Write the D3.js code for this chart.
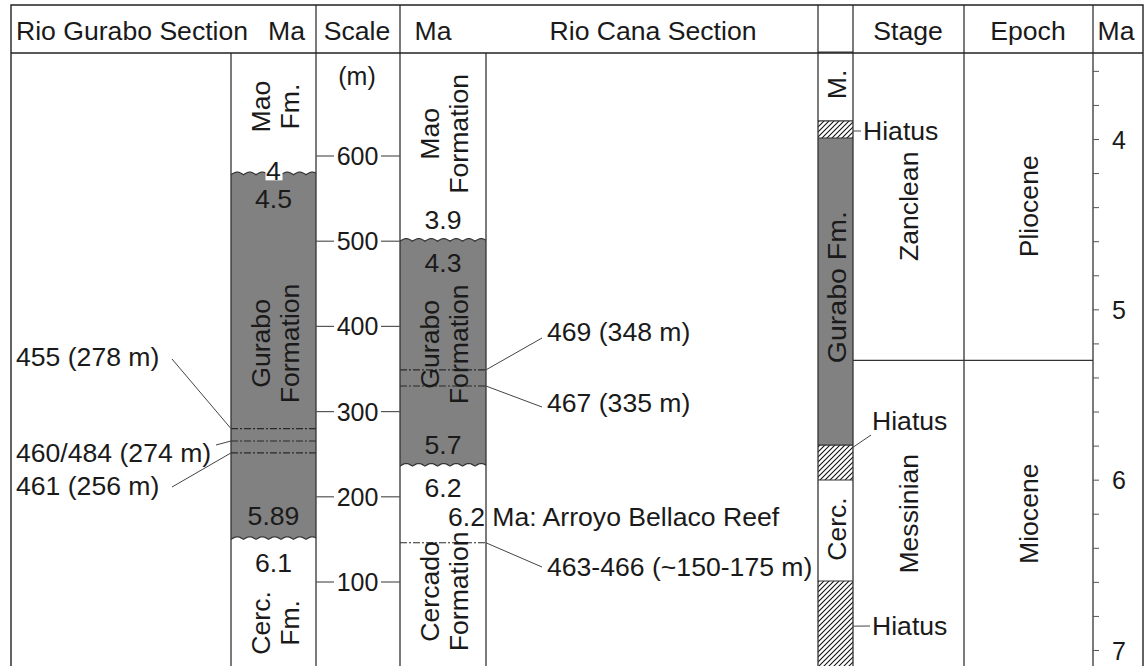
<!DOCTYPE html>
<html>
<head>
<meta charset="utf-8">
<script src="https://cdn.jsdelivr.net/npm/d3@7"></script>
<style>
  body { margin: 0; background: #fff; }
  text { font-family: "Liberation Sans", Arial, sans-serif; fill: #1a1a1a; }
</style>
</head>
<body>
<div id="chart"></div>
<script>
// ---- data ----
var header_labels = ["Rio Gurabo Section", "Ma", "Scale", "Ma", "Rio Cana Section", "Stage", "Epoch", "Ma"];

// Rio Gurabo section, metres
var gurabo_units = [
    {name: "Mao Fm.", kind: "Mao", top: 721, base: 578},
    {name: "Gurabo Formation", kind: "Gurabo", top: 578, base: 150},
    {name: "Cerc. Fm.", kind: "Cercado", top: 150, base: 0}
];
var gurabo_ages = [{label: "4", m: 582}, {label: "4.5", m: 549}, {label: "5.89", m: 177}, {label: "6.1", m: 122}];
var gurabo_samples = [
    {label: "455 (278 m)", m: 280},
    {label: "460/484 (274 m)", m: 265.5},
    {label: "461 (256 m)", m: 251.5}
];

// Rio Cana section, metres
var cana_units = [
    {name: "Mao Formation", kind: "Mao", top: 721, base: 500},
    {name: "Gurabo Formation", kind: "Gurabo", top: 500, base: 236},
    {name: "Cercado Formation", kind: "Cercado", top: 236, base: 0}
];
var cana_ages = [{label: "3.9", m: 525}, {label: "4.3", m: 474}, {label: "5.7", m: 261}, {label: "6.2", m: 210}];
var cana_samples = [
    {label: "469 (348 m)", m: 349},
    {label: "467 (335 m)", m: 330},
    {label: "463-466 (~150-175 m)", m: 146}
];
var reef_note = {label: "6.2 Ma: Arroyo Bellaco Reef", m: 176};

var scale_ticks = [100, 200, 300, 400, 500, 600];

// time column, Ma
var time_units = [
    {name: "M.", kind: "Mao", top: 3.49, base: 3.894},
    {name: "", kind: "hiatus", top: 3.894, base: 3.994},
    {name: "Gurabo Fm.", kind: "Gurabo", top: 3.994, base: 5.797},
    {name: "", kind: "hiatus", top: 5.797, base: 6.002},
    {name: "Cerc.", kind: "Cercado", top: 6.002, base: 6.595},
    {name: "", kind: "hiatus", top: 6.595, base: 7.1}
];
var hiatus_ma = [3.953, 5.81, 6.86];
var stages = [{name: "Zanclean", top: 3.49, base: 5.3}, {name: "Messinian", top: 5.3, base: 7.1}];
var epochs = [{name: "Pliocene", top: 3.49, base: 5.3}, {name: "Miocene", top: 5.3, base: 7.1}];
var ma_ticks = [3.6, 3.8, 4, 4.2, 4.4, 4.6, 4.8, 5, 5.2, 5.4, 5.6, 5.8, 6, 6.2, 6.4, 6.6, 6.8, 7];
var ma_labels = [4, 5, 6, 7];

// ---- layout ----
var width = 1144, height = 666;
var frameL = 11, frameR = 1143, frameT = 5, headB = 53;
var header_x = [16, 268, 357, 433, 653, 908, 1028, 1116];
var header_anchor = ["start", "start", "middle", "middle", "middle", "middle", "middle", "middle"];
var gurStrip = [231, 316], canaStrip = [400, 486], timeStrip = [818, 853];
var body_lines = [231, 316, 400, 486, 818, 853, 964, 1093];
var head_lines = [316, 400, 818, 853, 964, 1093];
var gurabo_label_m = [658, 380, 52];
var cana_label_m = [626, 379, 89];
var time_label_ma = [3.68, 4.87, 6.29];
var gurabo_sample_pos = [{y: 357, lx: 172, ly: 359}, {y: 453, lx: 216, ly: 445}, {y: 486, lx: 172, ly: 487}];
var cana_sample_pos = [{y: 332, ly: 338}, {y: 403, ly: 407}, {y: 567, ly: 567}];
var hiatus_pos = [{x: 861, y: 131, tx: 863, ty: 131}, {x: 871, y: 435, tx: 872, ty: 421}, {x: 870, y: 626, tx: 872, ty: 626}];
var fills = {Mao: "#fff", Cercado: "#fff", Gurabo: "#818181", hiatus: "url(#hatch)"};
var fs = 26.6;

var yM = d3.scaleLinear().domain([0, 600]).range([667.2, 156]);
var yMa = d3.scaleLinear().domain([4, 7]).range([139, 650]);

var svg = d3.select("#chart").append("svg")
    .attr("width", width)
    .attr("height", height);

var pat = svg.append("defs").append("pattern")
    .attr("id", "hatch")
    .attr("patternUnits", "userSpaceOnUse")
    .attr("width", 5).attr("height", 5);
pat.append("rect").attr("width", 5).attr("height", 5).attr("fill", "#fff");
pat.append("path")
    .attr("d", "M-1,1 l2,-2 M0,5 l5,-5 M4,6 l2,-2")
    .attr("stroke", "#111").attr("stroke-width", 1.1);

svg.append("rect")
    .attr("x", frameL).attr("y", frameT)
    .attr("width", frameR - frameL).attr("height", height + 10 - frameT)
    .attr("fill", "#fff");

// scalloped unconformity points
function wavePts(x0, x1, y) {
    var pts = [];
    for (var x = x0; x <= x1; x += 0.5) {
        pts.push([x, y - 2.6 * Math.abs(Math.sin(Math.PI * (x - x0) / 12.5))]);
    }
    return pts;
}

function drawUnits(units, strip, scale, wavy) {
    var g = svg.append("g");
    units.forEach(function(u) {
        var y0 = scale(u.top), y1 = scale(u.base);
        var topPts = (wavy && u.top < 700) ? wavePts(strip[0], strip[1], y0) : [[strip[0], y0], [strip[1], y0]];
        var basePts = (wavy && u.base > 0) ? wavePts(strip[0], strip[1], y1) : [[strip[0], y1], [strip[1], y1]];
        var pts = topPts.concat(basePts.slice().reverse());
        g.append("path")
            .attr("d", "M" + pts.join("L") + "Z")
            .attr("fill", fills[u.kind]);
        if (u.top < 700) {
            g.append("path")
                .attr("d", d3.line()(topPts))
                .attr("fill", "none")
                .attr("stroke", "#333")
                .attr("stroke-width", 1.2);
        }
    });
    return g;
}

drawUnits(gurabo_units, gurStrip, yM, true);
drawUnits(cana_units, canaStrip, yM, true);
drawUnits(time_units, timeStrip, yMa, false);

// sample horizons (dash-dot)
function horizons(samples, strip) {
    svg.append("g").selectAll("line")
        .data(samples).enter().append("line")
        .attr("x1", strip[0]).attr("x2", strip[1])
        .attr("y1", function(d) { return yM(d.m); })
        .attr("y2", function(d) { return yM(d.m); })
        .attr("stroke", "#2a2a2a")
        .attr("stroke-width", 1.1)
        .attr("stroke-dasharray", "7,2,2,2");
}
horizons(gurabo_samples, gurStrip);
horizons(cana_samples, canaStrip);

// stage / epoch boundary
svg.append("g").selectAll("line")
    .data(stages.slice(1)).enter().append("line")
    .attr("x1", 853).attr("x2", 1093)
    .attr("y1", function(d) { return yMa(d.top); })
    .attr("y2", function(d) { return yMa(d.top); })
    .attr("stroke", "#333").attr("stroke-width", 1.3);

// grid lines
svg.append("g").selectAll("line")
    .data(body_lines).enter().append("line")
    .attr("x1", function(d) { return d; }).attr("x2", function(d) { return d; })
    .attr("y1", headB).attr("y2", height)
    .attr("stroke", "#333").attr("stroke-width", 1.3);
svg.append("g").selectAll("line")
    .data(head_lines).enter().append("line")
    .attr("x1", function(d) { return d; }).attr("x2", function(d) { return d; })
    .attr("y1", frameT).attr("y2", headB)
    .attr("stroke", "#333").attr("stroke-width", 1.3);
svg.append("line")
    .attr("x1", frameL).attr("x2", frameR).attr("y1", headB).attr("y2", headB)
    .attr("stroke", "#222").attr("stroke-width", 1.4);
svg.append("path")
    .attr("d", "M" + frameL + "," + height + "V" + frameT + "H" + frameR + "V" + height)
    .attr("fill", "none").attr("stroke", "#222").attr("stroke-width", 1.4);

// header
svg.append("g").selectAll("text")
    .data(header_labels).enter().append("text")
    .attr("x", function(d, i) { return header_x[i]; })
    .attr("y", 31)
    .attr("text-anchor", function(d, i) { return header_anchor[i]; })
    .attr("dominant-baseline", "central")
    .attr("font-size", fs)
    .text(function(d) { return d; });

// scale column
var sc = svg.append("g");
scale_ticks.forEach(function(t) {
    var y = yM(t);
    sc.append("line").attr("x1", 316).attr("x2", 334).attr("y1", y).attr("y2", y)
        .attr("stroke", "#555").attr("stroke-width", 1.2);
    sc.append("line").attr("x1", 381).attr("x2", 400).attr("y1", y).attr("y2", y)
        .attr("stroke", "#555").attr("stroke-width", 1.2);
    sc.append("text").attr("x", 357.5).attr("y", y)
        .attr("text-anchor", "middle").attr("dominant-baseline", "central")
        .attr("font-size", 25).text(t);
});
sc.append("text").attr("x", 357).attr("y", 76)
    .attr("text-anchor", "middle").attr("dominant-baseline", "central")
    .attr("font-size", 25).text("(m)");

// rotated two-line unit names
function unitNames(units, strip, labelPos, scale, off1, off2) {
    var cx = (strip[0] + strip[1]) / 2;
    units.forEach(function(u, i) {
        var words = u.name.split(" ");
        var t = svg.append("text")
            .attr("transform", "translate(" + cx + "," + scale(labelPos[i]) + ") rotate(-90)")
            .attr("text-anchor", "middle")
            .attr("font-size", fs);
        words.forEach(function(w, j) {
            t.append("tspan").attr("x", 0)
                .attr("y", (j === 0 ? off1 : off2))
                .attr("dominant-baseline", "central")
                .text(w);
        });
    });
}
unitNames(gurabo_units, gurStrip, gurabo_label_m, yM, -12.5, 16.5);
unitNames(cana_units, canaStrip, cana_label_m, yM, -13.5, 16);

// age labels inside sections
function ageLabels(ages, strip, units) {
    var cx = (strip[0] + strip[1]) / 2;
    ages.forEach(function(a) {
        var y = yM(a.m);
        var onEdge = units.some(function(u) { return Math.abs(u.base - a.m) < 5; });
        if (onEdge) {
            svg.append("rect").attr("x", cx - 8).attr("y", y - 2).attr("width", 17).attr("height", 11)
                .attr("fill", "#fff");
        }
        svg.append("text").attr("x", cx).attr("y", y)
            .attr("text-anchor", "middle").attr("dominant-baseline", "central")
            .attr("font-size", fs).text(a.label);
    });
}
ageLabels(gurabo_ages, gurStrip, gurabo_units);
ageLabels(cana_ages, canaStrip, cana_units);

// sample labels and leaders
var lead = svg.append("g");
gurabo_samples.forEach(function(s, i) {
    var p = gurabo_sample_pos[i];
    lead.append("line").attr("x1", p.lx).attr("y1", p.ly).attr("x2", gurStrip[0]).attr("y2", yM(s.m))
        .attr("stroke", "#444").attr("stroke-width", 1);
    svg.append("text").attr("x", 16).attr("y", p.y)
        .attr("dominant-baseline", "central").attr("font-size", fs).text(s.label);
});
cana_samples.forEach(function(s, i) {
    var p = cana_sample_pos[i];
    lead.append("line").attr("x1", canaStrip[1]).attr("y1", yM(s.m)).attr("x2", 542).attr("y2", p.ly)
        .attr("stroke", "#444").attr("stroke-width", 1);
    svg.append("text").attr("x", 547).attr("y", p.y)
        .attr("dominant-baseline", "central").attr("font-size", fs).text(s.label);
});
svg.append("text").attr("x", 448).attr("y", yM(reef_note.m))
    .attr("dominant-baseline", "central").attr("font-size", fs).text(reef_note.label);

// time strip labels
var named = time_units.filter(function(u) { return u.name; });
named.forEach(function(u, i) {
    var t = svg.append("text")
        .attr("transform", "translate(" + ((timeStrip[0] + timeStrip[1]) / 2 + 1) + "," + yMa(time_label_ma[i]) + ") rotate(-90)")
        .attr("text-anchor", "middle").attr("dominant-baseline", "central")
        .attr("font-size", fs).text(u.name);
    if (u.kind === "Gurabo") t.attr("textLength", 152).attr("lengthAdjust", "spacingAndGlyphs");
});

// hiatus labels
hiatus_ma.forEach(function(h, i) {
    var p = hiatus_pos[i];
    lead.append("line").attr("x1", timeStrip[1]).attr("y1", yMa(h)).attr("x2", p.x).attr("y2", p.y)
        .attr("stroke", "#444").attr("stroke-width", 1);
    svg.append("text").attr("x", p.tx).attr("y", p.ty)
        .attr("dominant-baseline", "central").attr("font-size", fs).text("Hiatus");
});

// stage and epoch names
function periodNames(list, cx) {
    svg.append("g").selectAll("text")
        .data(list).enter().append("text")
        .attr("transform", function(d) {
            return "translate(" + cx + "," + yMa((d.top + d.base) / 2) + ") rotate(-90)";
        })
        .attr("text-anchor", "middle").attr("dominant-baseline", "central")
        .attr("font-size", fs)
        .text(function(d) { return d.name; });
}
periodNames(stages, 909);
periodNames(epochs, 1029);

// Ma axis
var maAxis = d3.axisRight(yMa)
    .tickValues(ma_ticks)
    .tickSize(6)
    .tickPadding(13)
    .tickFormat(function(d) { return ma_labels.indexOf(d) > -1 ? d : ""; });
var ga = svg.append("g").attr("transform", "translate(1093,0)").call(maAxis);
ga.select(".domain").remove();
ga.attr("font-family", null).attr("font-size", 25);
ga.selectAll(".tick line").attr("stroke", "#555");
ga.selectAll(".tick text").attr("fill", "#1a1a1a").attr("dy", null).attr("dominant-baseline", "central");
</script>
</body>
</html>
